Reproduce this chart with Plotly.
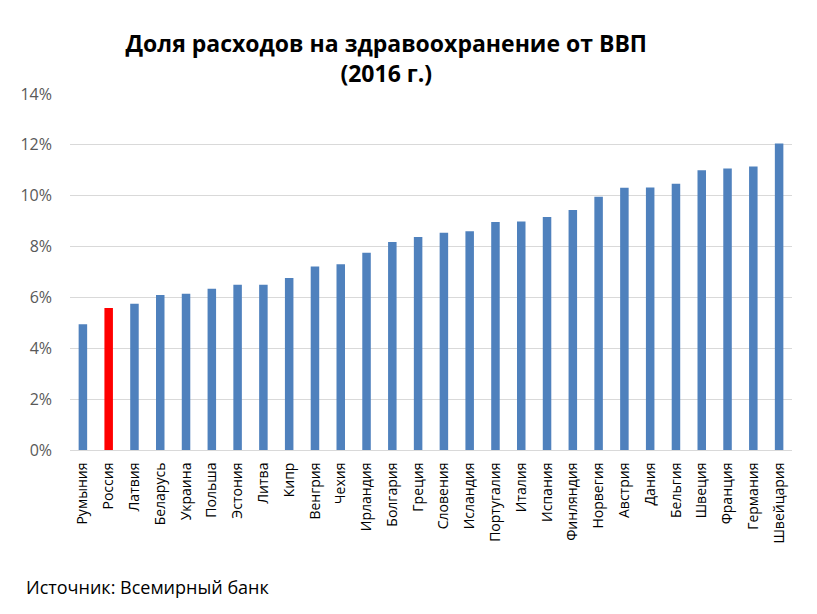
import plotly.graph_objects as go

countries = ["Румыния", "Россия", "Латвия", "Беларусь", "Украина", "Польша", "Эстония",
             "Литва", "Кипр", "Венгрия", "Чехия", "Ирландия", "Болгария", "Греция",
             "Словения", "Исландия", "Португалия", "Италия", "Испания", "Финляндия",
             "Норвегия", "Австрия", "Дания", "Бельгия", "Швеция", "Франция", "Германия",
             "Швейцария"]
share_pct = [4.95, 5.58, 5.75, 6.10, 6.14, 6.34, 6.50,
             6.50, 6.76, 7.22, 7.30, 7.76, 8.18, 8.38,
             8.54, 8.60, 8.97, 8.99, 9.16, 9.44,
             9.96, 10.31, 10.32, 10.47, 11.00, 11.07, 11.15,
             12.05]
highlight = "Россия"
y_ticks = [0, 2, 4, 6, 8, 10, 12, 14]

colors = ["#FF0000" if c == highlight else "#4F81BD" for c in countries]

fig = go.Figure(go.Bar(x=countries, y=share_pct, marker=dict(color=colors, line=dict(width=0)),
                       width=0.33))

fig.update_layout(
    width=817, height=614,
    paper_bgcolor="white", plot_bgcolor="white",
    margin=dict(l=56, r=33, t=86, b=172),
    showlegend=False,
    font=dict(family="Open Sans, Liberation Sans, sans-serif", color="#000000"),
    title=dict(text="<b>Доля расходов на здравоохранение от ВВП<br>(2016 г.)</b>",
               x=0.463, xanchor="center", xref="container",
               y=0.928, yanchor="top", yref="container",
               font=dict(family="Open Sans, sans-serif", size=23, color="#000000")),
    bargap=0.67,
)
fig.update_yaxes(range=[0, 14], tickvals=y_ticks, ticktext=[f"{v}%" for v in y_ticks],
                 showgrid=True, gridcolor="#D9D9D9", gridwidth=1, zeroline=False,
                 showline=False, ticks="", ticklabelstandoff=17,
                 tickfont=dict(family="Open Sans, sans-serif", size=16, color="#595959"))
fig.update_xaxes(tickangle=-90, showline=True, linecolor="#D9D9D9", linewidth=1,
                 ticks="", ticklabelstandoff=6,
                 tickfont=dict(family="Open Sans, sans-serif", size=14, color="#000000"))

fig.add_annotation(text="Источник: Всемирный банк", xref="paper", yref="paper",
                   x=-0.0635, y=-0.385, xanchor="left", yanchor="middle", showarrow=False,
                   font=dict(family="Open Sans, sans-serif", size=18, color="#000000"))

fig.write_html("out.html")
